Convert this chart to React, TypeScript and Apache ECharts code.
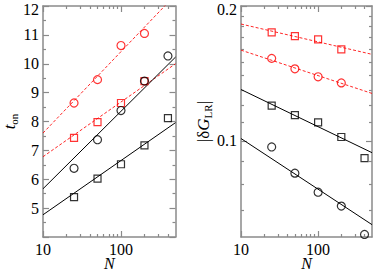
import React, { useEffect, useRef } from 'react';
import * as echarts from 'echarts';

// ---- data ----
const N = [25, 50, 100, 200, 400];
const N4 = [25, 50, 100, 200];
const fitN = [10, 500];

// left panel: t_on
const tRedCircle = [8.64, 9.45, 10.63, 11.05];
const tRedSquare = [7.43, 7.98, 8.64, 9.4];
const tBlackCircle = [6.38, 7.37, 8.38, 9.4, 10.27];
const tBlackSquare = [5.38, 6.02, 6.52, 7.17, 8.12];
const tFitRedCircle = [7.6, 12.39];
const tFitRedSquare = [6.78, 10.0];
const tFitBlackCircle = [5.67, 10.23];
const tFitBlackSquare = [4.77, 7.96];

// right panel: |dG_LR|
const gRedSquare = [0.1746, 0.1713, 0.1685, 0.16];
const gRedCircle = [0.1528, 0.1448, 0.139, 0.1347];
const gBlackSquare = [0.1199, 0.1141, 0.11, 0.102, 0.0915];
const gBlackCircle = [0.0969, 0.0847, 0.0768, 0.0715, 0.0618];
const gFitRedSquare = [0.1823, 0.156];
const gFitRedCircle = [0.1594, 0.1276];
const gFitBlackSquare = [0.1302, 0.0941];
const gFitBlackCircle = [0.1012, 0.065];

// ticks
const xMajor = [10, 100];
const xMinor = [20, 30, 40, 50, 60, 70, 80, 90, 200, 300, 400];
const tLabels = [5, 6, 7, 8, 9, 10, 11, 12];
const gMajor = [0.1, 0.2];
const gMinor = [0.07, 0.08, 0.09, 0.11, 0.12, 0.13, 0.14, 0.15, 0.16, 0.17, 0.18, 0.19];

const FONT = 'Liberation Serif';
const FRAME = '#8a8a8a';

const pair = (xs: number[], ys: number[]) => ys.map((y, i) => [xs[i], y]);

function xAxes(gridIndex: number, nameStr: string) {
  const base = {
    gridIndex,
    type: 'log' as const,
    logBase: 10,
    min: 10,
    max: 500,
    splitLine: { show: false },
  };
  const line = { show: true, onZero: false, lineStyle: { color: FRAME, width: 1.5 } };
  return [
    {
      ...base,
      position: 'bottom',
      axisLine: line,
      axisTick: { show: true, inside: true, length: 6, customValues: xMajor, lineStyle: { color: FRAME, width: 1.2 } },
      axisLabel: {
        show: true,
        customValues: xMajor,
        margin: 5,
        color: '#000',
        fontFamily: FONT,
        fontSize: 16,
        lineHeight: 14,
        formatter: (v: number) => String(Math.round(v)),
      },
      name: nameStr,
      nameLocation: 'middle',
      nameGap: 19,
      nameMoveOverlap: false,
      nameTextStyle: { fontFamily: FONT, fontSize: 16, lineHeight: 14, fontStyle: 'italic', color: '#000' },
    },
    {
      ...base,
      position: 'bottom',
      axisLine: { show: false, onZero: false },
      axisTick: { show: true, inside: true, length: 3, customValues: xMinor, lineStyle: { color: FRAME, width: 1.2 } },
      axisLabel: { show: false },
    },
    {
      ...base,
      position: 'top',
      axisLine: line,
      axisTick: { show: true, inside: true, length: 6, customValues: xMajor, lineStyle: { color: FRAME, width: 1.2 } },
      axisLabel: { show: false },
    },
    {
      ...base,
      position: 'top',
      axisLine: { show: false, onZero: false },
      axisTick: { show: true, inside: true, length: 3, customValues: xMinor, lineStyle: { color: FRAME, width: 1.2 } },
      axisLabel: { show: false },
    },
  ];
}

const tickStyle = { color: FRAME, width: 1.2 };
const lineStyleFrame = { show: true, onZero: false, lineStyle: { color: FRAME, width: 1.5 } };
const topLabelRich = { top: { fontFamily: FONT, fontSize: 16, color: '#000', padding: [7, 0, 0, 0] } };

const leftY = [
  {
    gridIndex: 0,
    type: 'value',
    min: 4,
    max: 12,
    interval: 1,
    position: 'left',
    splitLine: { show: false },
    axisLine: lineStyleFrame,
    axisTick: { show: true, inside: true, length: 6, lineStyle: tickStyle },
    minorTick: { show: true, splitNumber: 2, length: 3, lineStyle: tickStyle },
    axisLabel: {
      show: true,
      customValues: tLabels,
      margin: 4,
      color: '#000',
      fontFamily: FONT,
      fontSize: 16,
      formatter: (v: number) => (v === 12 ? '{top|12}' : String(v)),
      rich: topLabelRich,
    },
    name: '{i|t}{s|on}',
    nameLocation: 'middle',
    nameRotate: 90,
    nameGap: 18,
    nameTextStyle: {
      color: '#000',
      fontFamily: FONT,
      rich: {
        i: { fontFamily: FONT, fontStyle: 'italic', fontSize: 17, lineHeight: 20, color: '#000' },
        s: { fontFamily: FONT, fontSize: 11, lineHeight: 20, verticalAlign: 'bottom', padding: [8, 0, 0, 0], color: '#000' },
      },
    },
  },
  {
    gridIndex: 0,
    type: 'value',
    min: 4,
    max: 12,
    interval: 1,
    position: 'right',
    splitLine: { show: false },
    axisLine: lineStyleFrame,
    axisTick: { show: true, inside: true, length: 6, lineStyle: tickStyle },
    minorTick: { show: true, splitNumber: 2, length: 3, lineStyle: tickStyle },
    axisLabel: { show: false },
  },
];

function rightYAxes(gridIndex: number) {
  const base = {
    gridIndex,
    type: 'log' as const,
    logBase: 10,
    min: 0.061,
    max: 0.2,
    splitLine: { show: false },
  };
  return [
    {
      ...base,
      position: 'left',
      axisLine: lineStyleFrame,
      axisTick: { show: true, inside: true, length: 6, customValues: gMajor, lineStyle: tickStyle },
      axisLabel: {
        show: true,
        customValues: gMajor,
        margin: 4,
        color: '#000',
        fontFamily: FONT,
        fontSize: 16,
        formatter: (v: number) => {
          const s = String(Math.round(v * 100) / 100);
          return s === '0.2' ? '{top|0.2}' : s;
        },
        rich: topLabelRich,
      },
      name: '|δ{i|G}{s|LR}|',
      nameLocation: 'middle',
      nameRotate: 90,
      nameGap: 28,
      nameTextStyle: {
        color: '#000',
        fontFamily: FONT,
        fontSize: 17,
        lineHeight: 20,
        rich: {
          i: { fontFamily: FONT, fontStyle: 'italic', fontSize: 17, lineHeight: 20, color: '#000' },
          s: { fontFamily: FONT, fontSize: 11, lineHeight: 20, verticalAlign: 'bottom', padding: [8, 0, 0, 0], color: '#000' },
        },
      },
    },
    {
      ...base,
      position: 'left',
      axisLine: { show: false, onZero: false },
      axisTick: { show: true, inside: true, length: 3, customValues: gMinor, lineStyle: tickStyle },
      axisLabel: { show: false },
    },
    {
      ...base,
      position: 'right',
      axisLine: lineStyleFrame,
      axisTick: { show: true, inside: true, length: 6, customValues: gMajor, lineStyle: tickStyle },
      axisLabel: { show: false },
    },
    {
      ...base,
      position: 'right',
      axisLine: { show: false, onZero: false },
      axisTick: { show: true, inside: true, length: 3, customValues: gMinor, lineStyle: tickStyle },
      axisLabel: { show: false },
    },
  ];
}

function scatter(xi: number, yi: number, data: number[][], symbol: string, color: string, size: number) {
  return {
    type: 'scatter',
    xAxisIndex: xi,
    yAxisIndex: yi,
    data,
    symbol,
    symbolSize: size,
    itemStyle: { color: 'none', borderColor: color, borderWidth: 1.2 },
    z: 3,
  };
}

function fit(xi: number, yi: number, ys: number[], color: string, dashed: boolean) {
  return {
    type: 'line',
    xAxisIndex: xi,
    yAxisIndex: yi,
    data: pair(fitN, ys),
    showSymbol: false,
    symbol: 'none',
    clip: true,
    lineStyle: { color, width: 1, type: dashed ? [3, 2] : 'solid', opacity: dashed ? 0.85 : 1 },
    z: 2,
  };
}

const RED = '#ff0000';
const BLACK = '#000000';

export default function App() {
  const ref = useRef<HTMLDivElement>(null);
  useEffect(() => {
    if (!ref.current) return;
    const chart = echarts.init(ref.current, undefined, { renderer: 'svg' });
    chart.setOption({
      animation: false,
      backgroundColor: '#fff',
      grid: [
        { left: 43, top: 6, width: 132.5, height: 231, outerBoundsMode: 'none', containLabel: false },
        { left: 241, top: 6, width: 131, height: 231, outerBoundsMode: 'none', containLabel: false },
      ],
      xAxis: [...xAxes(0, 'N'), ...xAxes(1, 'N')],
      yAxis: [...leftY, ...rightYAxes(1)],
      series: [
        fit(0, 0, tFitRedCircle, RED, true),
        fit(0, 0, tFitRedSquare, RED, true),
        fit(0, 0, tFitBlackCircle, BLACK, false),
        fit(0, 0, tFitBlackSquare, BLACK, false),
        scatter(0, 0, pair(N4, tRedCircle), 'circle', RED, 8),
        scatter(0, 0, pair(N4, tRedSquare), 'rect', RED, 7),
        scatter(0, 0, pair(N, tBlackCircle), 'circle', BLACK, 8),
        scatter(0, 0, pair(N, tBlackSquare), 'rect', BLACK, 7),
        fit(4, 2, gFitRedSquare, RED, true),
        fit(4, 2, gFitRedCircle, RED, true),
        fit(4, 2, gFitBlackSquare, BLACK, false),
        fit(4, 2, gFitBlackCircle, BLACK, false),
        scatter(4, 2, pair(N4, gRedSquare), 'rect', RED, 7),
        scatter(4, 2, pair(N4, gRedCircle), 'circle', RED, 8),
        scatter(4, 2, pair(N, gBlackSquare), 'rect', BLACK, 7),
        scatter(4, 2, pair(N, gBlackCircle), 'circle', BLACK, 8),
      ],
    });
    return () => chart.dispose();
  }, []);
  return <div ref={ref} style={{ width: 374, height: 270, position: 'fixed', left: 0, top: 0 }} />;
}
